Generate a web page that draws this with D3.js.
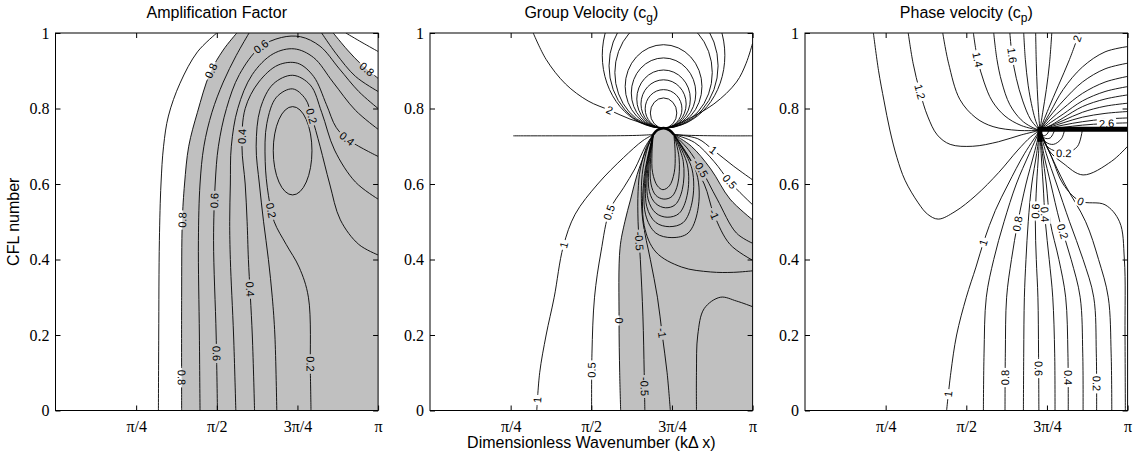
<!DOCTYPE html>
<html>
<head>
<meta charset="utf-8">
<script src="https://cdn.jsdelivr.net/npm/d3@7"></script>
<style>
  body { margin: 0; background: #fff; }
  .clabel { font-family: "Liberation Sans", Arial, sans-serif; font-size: 11px; fill: #000; }
  .title, .alabel { font-family: "Liberation Sans", Arial, sans-serif; font-size: 16px; fill: #000; }
</style>
</head>
<body>
<svg id="chart" width="1143" height="459"></svg>
<script>
// x values are kΔx / π, y values are the CFL number

// ---------- amplification factor: contour traces ----------
const ampLines = [
  [[0.319, 0], [0.32, 0.2], [0.322, 0.45], [0.327, 0.6], [0.335, 0.7], [0.35, 0.78], [0.386, 0.867], [0.44, 0.95], [0.5, 1]],          // 0.9
  [[0.391, 0], [0.391, 0.3], [0.393, 0.5], [0.4, 0.6], [0.413, 0.7], [0.44, 0.79], [0.479, 0.894], [0.52, 0.955], [0.562, 1]],       // 0.8
  [[0.448, 0], [0.446, 0.2], [0.443, 0.45], [0.448, 0.6], [0.46, 0.7], [0.485, 0.79], [0.52, 0.87], [0.56, 0.94], [0.6, 1]],         // 0.7
  [[0.502, 0], [0.498, 0.2], [0.49, 0.45], [0.495, 0.6], [0.505, 0.7], [0.53, 0.8], [0.57, 0.89], [0.634, 0.962], [0.7, 0.988],
   [0.76, 0.99], [0.82, 0.965], [0.88, 0.905], [0.94, 0.845], [1, 0.8]],                                                            // 0.6
  [[0.559, 0], [0.552, 0.2], [0.542, 0.4], [0.54, 0.5], [0.542, 0.6], [0.545, 0.7], [0.565, 0.8], [0.61, 0.89], [0.675, 0.945],
   [0.74, 0.958], [0.8, 0.935], [0.86, 0.87], [0.93, 0.795], [1, 0.745]],                                                           // 0.5
  [[0.617, 0], [0.61, 0.2], [0.598, 0.4], [0.594, 0.5], [0.588, 0.6], [0.578, 0.7], [0.588, 0.8], [0.63, 0.87], [0.69, 0.915],
   [0.75, 0.92], [0.8, 0.885], [0.84, 0.81], [0.87, 0.75], [0.908, 0.717], [1, 0.673]],                                              // 0.4
  [[0.686, 0], [0.68, 0.2], [0.672, 0.3], [0.66, 0.4], [0.645, 0.5], [0.632, 0.6], [0.622, 0.7], [0.635, 0.8], [0.675, 0.865],
   [0.735, 0.888], [0.79, 0.862], [0.825, 0.79], [0.865, 0.69], [0.93, 0.605], [1, 0.56]],                                           // 0.3
  [[0.792, 0], [0.79, 0.1], [0.784, 0.3], [0.755, 0.38], [0.715, 0.44], [0.678, 0.5], [0.66, 0.57], [0.65, 0.66], [0.655, 0.76],
   [0.685, 0.83], [0.735, 0.852], [0.775, 0.825], [0.794, 0.779], [0.82, 0.7], [0.85, 0.6], [0.883, 0.505], [0.94, 0.44], [1, 0.412]], // 0.2
  [[0.9, 1], [0.95, 0.975], [1, 0.951]],                     // 0.9, right corner
  [[0.861, 1], [0.905, 0.955], [0.95, 0.915], [1, 0.88]],    // 0.8, right corner
  [[0.825, 1], [0.87, 0.945], [0.93, 0.885], [1, 0.845]]     // 0.7, right corner
];
const ampShadeLeft = 1, ampShadeRight = 9;     // the two 0.8 traces bounding the shaded region
const ampMinCentre = [0.735, 0.688];            // 0.1 closed contour
const ampMinRadius = [0.06, 0.117];
const ampLabels = [
  [0.479, 0.903, "0.8"], [0.634, 0.965, "0.6"], [0.58, 0.726, "0.4"], [0.794, 0.779, "0.2"],
  [0.908, 0.726, "0.4"], [0.97, 0.911, "0.8"], [0.489, 0.558, "0.6"], [0.391, 0.505, "0.8"],
  [0.665, 0.531, "0.2"], [0.588, 0.319, "0.4"], [0.5, 0.151, "0.6"], [0.391, 0.089, "0.8"],
  [0.784, 0.125, "0.2"]
];

// ---------- group velocity: contour traces ----------
const cgApex = [0.724, 0.748];        // where the positive ovals meet
const cgLeftEnd = [0.692, 0.731];     // left and right ends of the singular cap
const cgRightEnd = [0.756, 0.731];
const cgCap = [[0.692, 0.731], [0.705, 0.743], [0.724, 0.748], [0.742, 0.743], [0.756, 0.731]];
const cgBottomLines = [   // 1, 0.5, 0, -0.5, -1 : bottom edge -> cap
  [[0.331, 0], [0.34, 0.1], [0.36, 0.2], [0.385, 0.3], [0.413, 0.434], [0.45, 0.52], [0.52, 0.6], [0.6, 0.67], [0.66, 0.715]],
  [[0.501, 0], [0.502, 0.15], [0.51, 0.3], [0.53, 0.42], [0.558, 0.532], [0.6, 0.59], [0.635, 0.64], [0.668, 0.7]],
  [[0.591, 0], [0.588, 0.1], [0.586, 0.24], [0.589, 0.43], [0.604, 0.5], [0.622, 0.56], [0.642, 0.625], [0.67, 0.69]],
  [[0.666, 0], [0.664, 0.1], [0.66, 0.25], [0.652, 0.4], [0.645, 0.5], [0.645, 0.58], [0.652, 0.64], [0.672, 0.7]],
  [[0.745, 0], [0.735, 0.1], [0.72, 0.2], [0.705, 0.3], [0.683, 0.4], [0.66, 0.5], [0.655, 0.58], [0.66, 0.64], [0.676, 0.7]]
];
const cgRightLines = [    // 1, 0.5, 0, -0.5, -1 : cap -> right edge
  [[0.83, 0.72], [0.878, 0.69], [0.94, 0.648], [1, 0.611]],
  [[0.82, 0.71], [0.88, 0.66], [0.93, 0.605], [1, 0.545]],
  [[0.81, 0.7], [0.87, 0.64], [0.93, 0.56], [1, 0.505]],
  [[0.8, 0.692], [0.84, 0.64], [0.89, 0.56], [0.95, 0.47], [1, 0.443]],
  [[0.795, 0.68], [0.85, 0.6], [0.88, 0.52], [0.93, 0.44], [1, 0.398]]
];
const cgLoops = [         // closed negative loops hanging under the cap
  [[0.688, 0.68], [0.69, 0.63], [0.705, 0.595], [0.722, 0.585], [0.742, 0.595], [0.757, 0.63], [0.76, 0.68]],
  [[0.684, 0.67], [0.685, 0.6], [0.7, 0.57], [0.725, 0.56], [0.75, 0.567], [0.768, 0.6], [0.772, 0.67]],
  [[0.68, 0.66], [0.68, 0.58], [0.7, 0.548], [0.73, 0.537], [0.76, 0.545], [0.782, 0.585], [0.785, 0.66]],
  [[0.676, 0.65], [0.676, 0.56], [0.7, 0.523], [0.735, 0.512], [0.772, 0.522], [0.797, 0.57], [0.798, 0.65]],
  [[0.672, 0.64], [0.672, 0.54], [0.7, 0.498], [0.742, 0.487], [0.785, 0.498], [0.812, 0.55], [0.812, 0.64]],
  [[0.668, 0.63], [0.668, 0.52], [0.7, 0.47], [0.75, 0.458], [0.8, 0.47], [0.83, 0.53], [0.826, 0.63]]
];
const cgOpenLoop = [[0.664, 0.62], [0.664, 0.49], [0.7, 0.42], [0.78, 0.38], [0.87, 0.367], [0.94, 0.366], [1, 0.37]];
const cgOvalTop = [0.828, 0.85, 0.876, 0.902, 0.934, 0.969, 1.042, 1.078, 1.134];
const cgOvalRx = [0.041, 0.057, 0.07, 0.083, 0.1, 0.119, 0.151, 0.169, 0.19];
const cgTwoLeft = [[0.32, 1], [0.36, 0.93], [0.42, 0.865], [0.49, 0.82], [0.558, 0.795], [0.62, 0.772], [0.68, 0.756]];
const cgTwoRight = [[0.78, 0.764], [0.88, 0.812], [0.95, 0.87], [0.98, 0.92], [1, 0.973]];
const cgFlatLeft = [[0.258, 0.7276], [0.4, 0.7276], [0.55, 0.7276], [0.65, 0.729]];
const cgFlatRight = [[0.8, 0.729], [0.9, 0.7276], [1, 0.7276]];
const cgCorner = [[0.826, 0], [0.826, 0.1], [0.83, 0.2], [0.85, 0.27], [0.9, 0.3], [0.95, 0.29], [1, 0.275]];
const cgLabels = [
  [0.558, 0.795, "2"], [0.878, 0.69, "1"], [0.93, 0.605, "0.5"], [0.84, 0.64, "-0.5"], [0.88, 0.52, "-1"],
  [0.41, 0.438, "1"], [0.548, 0.527, "0.5"], [0.584, 0.24, "0"], [0.708, 0.204, "-1"],
  [0.331, 0.027, "1"], [0.501, 0.107, "0.5"], [0.666, 0.063, "-0.5"], [0.648, 0.45, "-0.5"]
];

// ---------- phase velocity: contour traces ----------
const cpPole = [0.728, 0.742];
const cpBottomLines = [   // 1.0 ... 0.0 : bottom edge -> pole
  [[0.439, 0], [0.452, 0.1], [0.47, 0.2], [0.5, 0.3], [0.53, 0.38], [0.555, 0.45], [0.59, 0.53], [0.63, 0.6], [0.68, 0.68]],
  [[0.553, 0], [0.555, 0.15], [0.562, 0.3], [0.585, 0.4], [0.617, 0.5], [0.655, 0.6], [0.695, 0.68]],
  [[0.62, 0], [0.621, 0.15], [0.625, 0.3], [0.64, 0.4], [0.66, 0.5], [0.685, 0.6], [0.71, 0.68]],
  [[0.677, 0], [0.678, 0.15], [0.68, 0.3], [0.685, 0.4], [0.692, 0.5], [0.703, 0.6], [0.718, 0.68]],
  [[0.725, 0], [0.724, 0.15], [0.722, 0.3], [0.717, 0.4], [0.714, 0.5], [0.718, 0.6], [0.724, 0.68]],
  [[0.775, 0], [0.774, 0.15], [0.768, 0.3], [0.757, 0.4], [0.745, 0.5], [0.738, 0.6], [0.732, 0.68]],
  [[0.816, 0], [0.815, 0.15], [0.808, 0.3], [0.787, 0.4], [0.76, 0.5], [0.748, 0.6], [0.736, 0.68]],
  [[0.862, 0], [0.861, 0.15], [0.853, 0.3], [0.825, 0.4], [0.79, 0.5], [0.762, 0.6], [0.74, 0.68]],
  [[0.904, 0], [0.903, 0.15], [0.895, 0.3], [0.862, 0.4], [0.82, 0.5], [0.78, 0.6], [0.748, 0.68]],
  [[0.951, 0], [0.949, 0.15], [0.94, 0.3], [0.91, 0.4], [0.87, 0.5], [0.805, 0.6], [0.76, 0.68]],
  [[0.993, 0], [0.992, 0.2], [0.99, 0.4], [0.975, 0.5], [0.93, 0.545], [0.852, 0.555], [0.8, 0.6], [0.765, 0.67]]
];
const cpTopLines = [      // 1.2 ... 2.0 : top edge -> pole
  [[0.32, 1], [0.335, 0.92], [0.356, 0.845], [0.38, 0.78], [0.41, 0.73], [0.45, 0.705], [0.52, 0.7], [0.6, 0.712], [0.67, 0.73]],
  [[0.427, 1], [0.445, 0.92], [0.48, 0.824], [0.53, 0.775], [0.583, 0.752], [0.66, 0.742]],
  [[0.522, 1], [0.535, 0.93], [0.555, 0.87], [0.58, 0.82], [0.62, 0.78], [0.67, 0.755]],
  [[0.585, 1], [0.595, 0.93], [0.61, 0.87], [0.635, 0.81], [0.67, 0.77], [0.7, 0.752]],
  [[0.635, 1], [0.642, 0.94], [0.655, 0.88], [0.675, 0.82], [0.7, 0.77]],
  [[0.678, 1], [0.683, 0.93], [0.692, 0.86], [0.705, 0.8], [0.716, 0.765]],
  [[0.715, 1], [0.717, 0.92], [0.72, 0.85], [0.724, 0.79]],
  [[0.765, 1], [0.758, 0.92], [0.748, 0.85], [0.737, 0.79]],
  [[0.85, 1], [0.82, 0.93], [0.785, 0.86], [0.755, 0.8]]
];
const cpRightLines = [    // 2.1 ... 2.9 : right edge -> pole
  [[1, 0.964], [0.93, 0.95], [0.86, 0.91], [0.8, 0.85], [0.76, 0.79]],
  [[1, 0.92], [0.93, 0.905], [0.86, 0.87], [0.8, 0.82], [0.76, 0.78]],
  [[1, 0.885], [0.93, 0.87], [0.86, 0.84], [0.8, 0.8], [0.76, 0.77]],
  [[1, 0.858], [0.93, 0.845], [0.86, 0.82], [0.8, 0.785], [0.76, 0.762]],
  [[1, 0.836], [0.93, 0.825], [0.86, 0.805], [0.8, 0.775], [0.765, 0.757]],
  [[1, 0.814], [0.93, 0.806], [0.86, 0.79], [0.8, 0.768]],
  [[1, 0.792], [0.93, 0.787], [0.86, 0.777], [0.8, 0.762]],
  [[1, 0.775], [0.93, 0.772], [0.86, 0.765], [0.8, 0.756]],
  [[1, 0.762], [0.93, 0.76], [0.86, 0.756], [0.8, 0.75]]
];
const cpLeftLoop = [[0.212, 1], [0.228, 0.9], [0.245, 0.82], [0.263, 0.743], [0.285, 0.67], [0.31, 0.61], [0.351, 0.55], [0.38, 0.52], [0.413, 0.507], [0.465, 0.527], [0.53, 0.57], [0.6, 0.63], [0.66, 0.69], [0.7, 0.725]];
const cpCutLoops = [      // pole -> lower side of the cut
  [[0.74, 0.728], [0.75, 0.732], [0.758, 0.745]],
  [[0.742, 0.722], [0.76, 0.722], [0.775, 0.745]],
  [[0.745, 0.712], [0.77, 0.705], [0.795, 0.72], [0.805, 0.745]],
  [[0.75, 0.7], [0.78, 0.686], [0.81, 0.682], [0.845, 0.7], [0.86, 0.745]],
  [[0.755, 0.69], [0.8, 0.655], [0.862, 0.624], [0.95, 0.66], [1, 0.7]]
];
const cpCut = [[0.728, 0.712], [0.728, 0.745], [1, 0.745]];
const cpLabels = [
  [0.356, 0.845, "1.2"], [0.54, 0.93, "1.4"], [0.643, 0.94, "1.6"], [0.842, 0.985, "2"],
  [0.935, 0.757, "2.6"], [0.8, 0.682, "0.2"], [0.852, 0.555, "0"],
  [0.436, 0.045, "1"], [0.542, 0.447, "1"], [0.622, 0.089, "0.8"], [0.661, 0.496, "0.8"],
  [0.726, 0.111, "0.6"], [0.713, 0.527, "0.6"], [0.819, 0.089, "0.4"], [0.749, 0.518, "0.4"],
  [0.906, 0.072, "0.2"], [0.811, 0.478, "0.2"]
];

// ---------- axes ----------
const kTicks = [0.25, 0.5, 0.75, 1];
const kTickLabels = ["\u03c0/4", "\u03c0/2", "3\u03c0/4", "\u03c0"];
const cflTicks = [0, 0.2, 0.4, 0.6, 0.8, 1];

const W = 1143, H = 459;
const plotTop = 33, plotBottom = 410.5, plotW = 322.6;
const panelLeft = [55.5, 430, 805];
const svg = d3.select("#chart");
const defs = svg.append("defs");
const y = d3.scaleLinear().domain([0, 1]).range([plotBottom, plotTop]);
const curve = d3.curveCatmullRom.alpha(0.5);

function makePanel(i) {
  const x = d3.scaleLinear().domain([0, 1]).range([panelLeft[i], panelLeft[i] + plotW]);
  defs.append("clipPath").attr("id", "clip" + i).append("rect")
    .attr("x", x(0)).attr("y", y(1)).attr("width", plotW).attr("height", plotBottom - plotTop);
  const mask = defs.append("mask").attr("id", "mask" + i)
    .attr("maskUnits", "userSpaceOnUse").attr("x", 0).attr("y", 0).attr("width", W).attr("height", H);
  mask.append("rect").attr("width", W).attr("height", H).attr("fill", "#fff");
  const g = svg.append("g").attr("clip-path", `url(#clip${i})`);
  const fill = g.append("g");
  const lines = g.append("g").attr("mask", `url(#mask${i})`)
    .attr("fill", "none").attr("stroke", "#000").attr("stroke-width", 0.9);
  const labels = g.append("g");
  const line = d3.line().x(d => x(d[0])).y(d => y(d[1])).curve(curve);
  return { x, g, fill, lines, labels, mask, line };
}

function placeLabels(p, list) {
  const samples = [];
  p.lines.selectAll("path, ellipse").each(function () {
    const len = this.getTotalLength();
    for (let s = 0; s <= len; s += 1.5) {
      const q = this.getPointAtLength(s);
      samples.push({ el: this, s, len, x: q.x, y: q.y });
    }
  });
  list.forEach(([kx, c, txt]) => {
    const px = p.x(kx), py = y(c);
    let best = null, bd = Infinity;
    for (const sm of samples) {
      const d = (sm.x - px) ** 2 + (sm.y - py) ** 2;
      if (d < bd) { bd = d; best = sm; }
    }
    const a = best.el.getPointAtLength(Math.max(0, best.s - 3));
    const b = best.el.getPointAtLength(Math.min(best.len, best.s + 3));
    let ang = Math.atan2(b.y - a.y, b.x - a.x) * 180 / Math.PI;
    if (ang > 90) ang -= 180;
    if (ang <= -90) ang += 180;
    const tr = `translate(${best.x},${best.y}) rotate(${ang})`;
    const t = p.labels.append("text").attr("class", "clabel").attr("transform", tr)
      .attr("text-anchor", "middle").attr("dy", "0.35em").text(txt);
    const w = t.node().getComputedTextLength();
    p.mask.append("rect").attr("transform", tr).attr("x", -w / 2 - 2).attr("y", -5.5)
      .attr("width", w + 4).attr("height", 11).attr("fill", "#000");
  });
}

function drawAxes(p) {
  const ax = svg.append("g");
  ax.append("g").attr("transform", `translate(0,${plotBottom})`)
    .call(d3.axisBottom(p.x).tickValues(kTicks).tickFormat((d, j) => kTickLabels[j])
      .tickSizeInner(-5).tickSizeOuter(0).tickPadding(10));
  ax.append("g").attr("transform", `translate(0,${plotTop})`)
    .call(d3.axisTop(p.x).tickValues(kTicks).tickFormat("").tickSizeInner(-5).tickSizeOuter(0));
  ax.append("g").attr("transform", `translate(${p.x(0)},0)`)
    .call(d3.axisLeft(y).tickValues(cflTicks).tickFormat(d3.format("")).tickSizeInner(-5).tickSizeOuter(0).tickPadding(6));
  ax.append("g").attr("transform", `translate(${p.x(1)},0)`)
    .call(d3.axisRight(y).tickValues(cflTicks).tickFormat("").tickSizeInner(-5).tickSizeOuter(0));
  ax.selectAll(".domain").remove();
  ax.selectAll("text").attr("font-family", "'Liberation Serif', 'Times New Roman', serif")
    .attr("font-size", 16).attr("fill", "#000");
  ax.append("rect").attr("x", p.x(0)).attr("y", plotTop).attr("width", plotW)
    .attr("height", plotBottom - plotTop).attr("fill", "none").attr("stroke", "#000").attr("stroke-width", 1);
}

// ---------- panel 1 : amplification factor ----------
{
  const p = makePanel(0);
  const left = p.line(ampLines[ampShadeLeft]);
  const right = p.line(ampLines[ampShadeRight]).replace(/^M/, "L");
  p.fill.append("path").attr("d", left + right + `L${p.x(1)},${y(0)}Z`).attr("fill", "#c0c0c0");
  ampLines.forEach(l => p.lines.append("path").attr("d", p.line(l)));
  p.lines.append("ellipse").attr("cx", p.x(ampMinCentre[0])).attr("cy", y(ampMinCentre[1]))
    .attr("rx", p.x(ampMinRadius[0]) - p.x(0)).attr("ry", y(0) - y(ampMinRadius[1]));
  placeLabels(p, ampLabels);
  drawAxes(p);
}

// ---------- panel 2 : group velocity ----------
{
  const p = makePanel(1);
  const toL = pts => pts.concat([cgLeftEnd]);
  const fromR = pts => [cgRightEnd].concat(pts);
  // shading where the group velocity is negative (inside the zero contour)
  const zeroPath = p.line(toL(cgBottomLines[2]).concat(cgCap.slice(1, -1), fromR(cgRightLines[2])));
  p.fill.append("path").attr("d", zeroPath + `L${p.x(1)},${y(0)}Z`).attr("fill", "#c0c0c0");

  cgBottomLines.forEach(l => p.lines.append("path").attr("d", p.line(toL(l))));
  cgRightLines.forEach(l => p.lines.append("path").attr("d", p.line(fromR(l))));
  cgLoops.forEach(l => p.lines.append("path").attr("d", p.line([cgLeftEnd].concat(l, [cgRightEnd]))));
  p.lines.append("path").attr("d", p.line([cgLeftEnd].concat(cgOpenLoop)));
  cgOvalTop.forEach((top, j) => {
    const ry = (top - cgApex[1]) / 2;
    p.lines.append("ellipse").attr("cx", p.x(cgApex[0])).attr("cy", y(cgApex[1] + ry))
      .attr("rx", p.x(cgOvalRx[j]) - p.x(0)).attr("ry", y(0) - y(ry));
  });
  p.lines.append("path").attr("d", p.line(cgTwoLeft.concat([cgApex], cgTwoRight)));
  p.lines.append("path").attr("d", p.line(toL(cgFlatLeft)));
  p.lines.append("path").attr("d", p.line(fromR(cgFlatRight)));
  p.lines.append("path").attr("d", p.line(cgCorner));
  p.lines.append("path").attr("d", p.line(cgCap)).attr("stroke-width", 2.6);
  placeLabels(p, cgLabels);
  drawAxes(p);
}

// ---------- panel 3 : phase velocity ----------
{
  const p = makePanel(2);
  const toPole = pts => pts.concat([cpPole]);
  const fromPole = pts => [cpPole].concat(pts);
  cpBottomLines.forEach(l => p.lines.append("path").attr("d", p.line(toPole(l))));
  cpTopLines.forEach(l => p.lines.append("path").attr("d", p.line(toPole(l))));
  cpRightLines.forEach(l => p.lines.append("path").attr("d", p.line(toPole(l))));
  p.lines.append("path").attr("d", p.line(toPole(cpLeftLoop)));
  cpCutLoops.forEach(l => p.lines.append("path").attr("d", p.line(fromPole(l))));
  placeLabels(p, cpLabels);
  p.g.append("path").attr("d", d3.line().x(d => p.x(d[0])).y(d => y(d[1]))(cpCut))
    .attr("fill", "none").attr("stroke", "#000").attr("stroke-width", 5).attr("stroke-linejoin", "miter");
  drawAxes(p);
}

// ---------- titles ----------
const titles = [
  { main: "Amplification Factor" },
  { main: "Group Velocity (c", sub: "g", tail: ")" },
  { main: "Phase velocity (c", sub: "p", tail: ")" }
];
titles.forEach((t, i) => {
  const tx = svg.append("text").attr("class", "title").attr("x", panelLeft[i] + plotW / 2).attr("y", 17.5)
    .attr("text-anchor", "middle");
  tx.append("tspan").text(t.main);
  if (t.sub) {
    tx.append("tspan").attr("dy", 4).attr("font-size", 12).text(t.sub);
    tx.append("tspan").attr("dy", -4).text(t.tail);
  }
});
svg.append("text").attr("class", "alabel").attr("text-anchor", "middle")
  .attr("transform", `translate(19,${(plotTop + plotBottom) / 2}) rotate(-90)`).text("CFL number");
svg.append("text").attr("class", "alabel").attr("text-anchor", "middle")
  .attr("x", panelLeft[1] + plotW / 2).attr("y", 448).text("Dimensionless Wavenumber (k\u0394 x)");
</script>
</body>
</html>
